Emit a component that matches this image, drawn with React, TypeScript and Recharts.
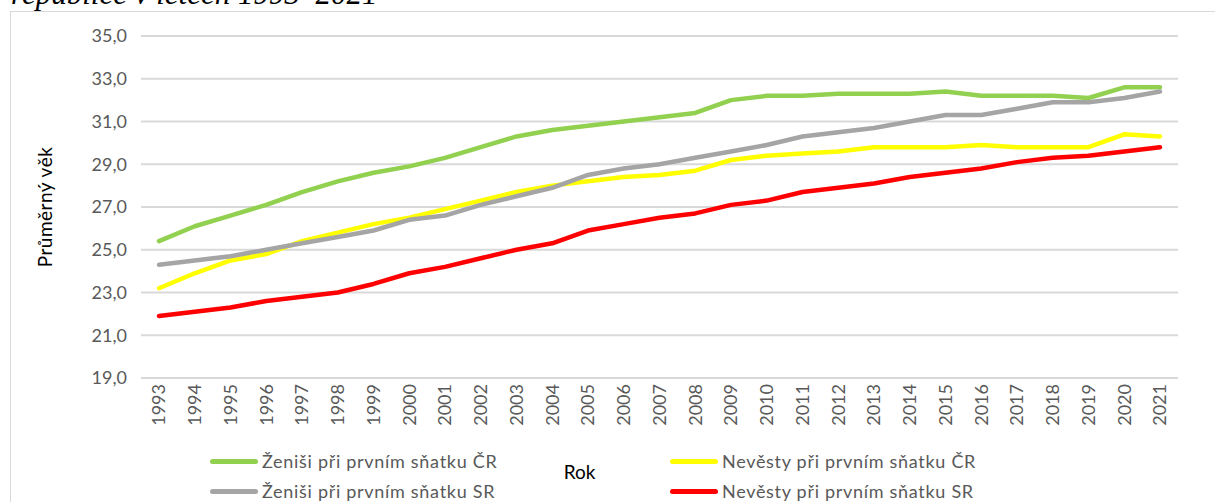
import React from "react";
import { LineChart, Line, XAxis, YAxis, CartesianGrid, Legend } from "recharts";

const YEARS = [
  "1993", "1994", "1995", "1996", "1997", "1998", "1999", "2000", "2001", "2002",
  "2003", "2004", "2005", "2006", "2007", "2008", "2009", "2010", "2011", "2012",
  "2013", "2014", "2015", "2016", "2017", "2018", "2019", "2020", "2021",
];

const ZENISI_CR = [
  25.4, 26.1, 26.6, 27.1, 27.7, 28.2, 28.6, 28.9, 29.3, 29.8,
  30.3, 30.6, 30.8, 31.0, 31.2, 31.4, 32.0, 32.2, 32.2, 32.3,
  32.3, 32.3, 32.4, 32.2, 32.2, 32.2, 32.1, 32.6, 32.6,
];

const NEVESTY_CR = [
  23.2, 23.9, 24.5, 24.8, 25.4, 25.8, 26.2, 26.5, 26.9, 27.3,
  27.7, 28.0, 28.2, 28.4, 28.5, 28.7, 29.2, 29.4, 29.5, 29.6,
  29.8, 29.8, 29.8, 29.9, 29.8, 29.8, 29.8, 30.4, 30.3,
];

const ZENISI_SR = [
  24.3, 24.5, 24.7, 25.0, 25.3, 25.6, 25.9, 26.4, 26.6, 27.1,
  27.5, 27.9, 28.5, 28.8, 29.0, 29.3, 29.6, 29.9, 30.3, 30.5,
  30.7, 31.0, 31.3, 31.3, 31.6, 31.9, 31.9, 32.1, 32.4,
];

const NEVESTY_SR = [
  21.9, 22.1, 22.3, 22.6, 22.8, 23.0, 23.4, 23.9, 24.2, 24.6,
  25.0, 25.3, 25.9, 26.2, 26.5, 26.7, 27.1, 27.3, 27.7, 27.9,
  28.1, 28.4, 28.6, 28.8, 29.1, 29.3, 29.4, 29.6, 29.8,
];

const Y_TICKS = [19, 21, 23, 25, 27, 29, 31, 33, 35];

// drawing order = legend order (row by row, two columns)
const SERIES = [
  { key: "zenisiCR", name: "Ženiši při prvním sňatku ČR", color: "#92D050" },
  { key: "nevestyCR", name: "Nevěsty při prvním sňatku ČR", color: "#FFFF00" },
  { key: "zenisiSR", name: "Ženiši při prvním sňatku SR", color: "#A5A5A5" },
  { key: "nevestySR", name: "Nevěsty při prvním sňatku SR", color: "#FF0000" },
];

const data = YEARS.map((year, i) => ({
  year,
  zenisiCR: ZENISI_CR[i],
  nevestyCR: NEVESTY_CR[i],
  zenisiSR: ZENISI_SR[i],
  nevestySR: NEVESTY_SR[i],
}));

const FONT = "Lato, 'Noto Sans', sans-serif";

const YearTick = ({ x, y, payload }: any) => (
  <g transform={`translate(${x},${y})`}>
    <text
      transform="rotate(-90)"
      textAnchor="end"
      dy="0.36em"
      x={2}
      fill="#595959"
      fontSize={18}
      fontFamily={FONT}
    >
      {payload.value}
    </text>
  </g>
);

const RokLabel = ({ viewBox }: any) => (
  <text
    x={viewBox.x + viewBox.width / 2 - 80}
    y={viewBox.y + 101}
    textAnchor="middle"
    fill="#000"
    fontSize={19}
    fontFamily={FONT}
  >
    Rok
  </text>
);

const renderLegend = ({ payload }: any) => {
  const items = SERIES.map((s) => (payload || []).find((p: any) => p.dataKey === s.key)).filter(Boolean);
  return (
    <div
      style={{
        display: "grid",
        gridTemplateColumns: "460px 320px",
        rowGap: 8,
        fontFamily: FONT,
        fontSize: 18,
        letterSpacing: 0.7,
        color: "#595959",
      }}
    >
      {items.map((p: any) => (
        <div key={p.dataKey} style={{ display: "flex", alignItems: "center", height: 22, whiteSpace: "nowrap" }}>
          <span
            style={{
              display: "inline-block",
              width: 48,
              height: 5,
              borderRadius: 3,
              background: p.color,
              marginRight: 4,
            }}
          />
          <span>{p.value}</span>
        </div>
      ))}
    </div>
  );
};

export default function App() {
  return (
    <div style={{ position: "absolute", left: 0, top: 0, width: 1215, height: 502, overflow: "hidden", background: "#fff" }}>
      <div
        style={{
          position: "absolute",
          left: 11,
          top: -22,
          fontFamily: "'Liberation Serif', serif",
          fontStyle: "italic",
          fontSize: 31,
          lineHeight: 1,
          whiteSpace: "nowrap",
        }}
      >
        republice v letech 1993–2021
      </div>
      <div
        style={{
          position: "absolute",
          left: 10,
          top: 11,
          width: 1300,
          height: 600,
          border: "1px solid #d9d9d9",
        }}
      />
      <div style={{ position: "absolute", left: 0, top: 0 }}>
        <LineChart width={1215} height={502} data={data} margin={{ top: 36, right: 37, bottom: 0, left: 10 }}>
          <CartesianGrid vertical={false} stroke="#d9d9d9" strokeWidth={2} />
          <XAxis
            dataKey="year"
            height={124}
            padding={{ left: 18, right: 18 }}
            axisLine={false}
            tickLine={false}
            interval={0}
            tick={<YearTick />}
            label={<RokLabel />}
          />
          <YAxis
            width={131}
            domain={[19, 35]}
            ticks={Y_TICKS}
            axisLine={false}
            tickLine={false}
            tickMargin={8}
            tickFormatter={(v: number) => v.toFixed(1).replace(".", ",")}
            tick={{ fill: "#595959", fontSize: 18, fontFamily: FONT }}
            label={{
              value: "Průměrný věk",
              angle: -90,
              position: "insideLeft",
              offset: 35,
              style: { textAnchor: "middle", fill: "#000", fontSize: 19, letterSpacing: 0.5, fontFamily: FONT },
            }}
          />
          <Legend
            layout="vertical"
            align="center"
            verticalAlign="middle"
            content={renderLegend}
            wrapperStyle={{ position: "absolute", left: 210, top: 450, width: 800 }}
          />
          {SERIES.map((s) => (
            <Line
              key={s.key}
              type="linear"
              dataKey={s.key}
              name={s.name}
              stroke={s.color}
              strokeWidth={4.5}
              strokeLinecap="round"
              strokeLinejoin="round"
              dot={false}
              activeDot={false}
              isAnimationActive={false}
            />
          ))}
        </LineChart>
      </div>
    </div>
  );
}
